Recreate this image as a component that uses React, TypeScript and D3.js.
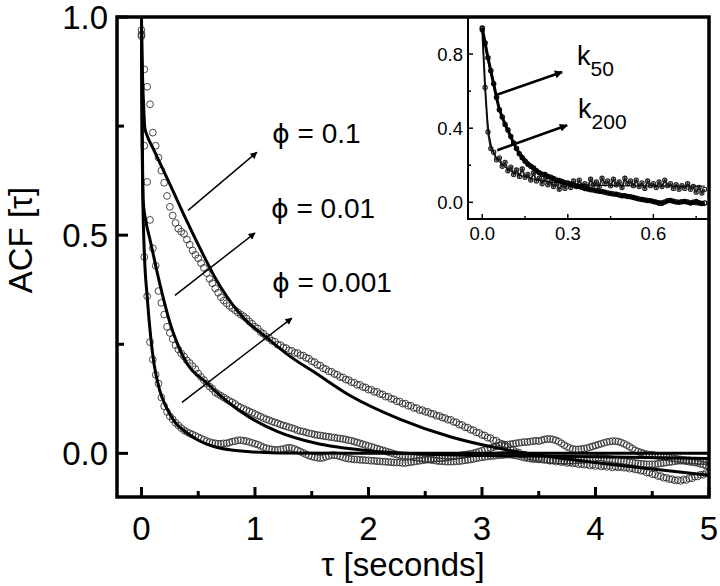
import React from "react";
import * as d3 from "d3";

// ---------- main panel data (sampled every 0.025 s from 0 to 5 s) ----------
const sampleStep = 0.025;
const acfPhi01 = [
  0.956, 0.880, 0.840, 0.800, 0.735, 0.705, 0.678, 0.648, 0.620, 0.590,
  0.565, 0.545, 0.528, 0.515, 0.508, 0.503, 0.490, 0.478, 0.465, 0.455,
  0.447, 0.436, 0.425, 0.413, 0.400, 0.390, 0.378, 0.368, 0.358, 0.350,
  0.344, 0.338, 0.333, 0.328, 0.323, 0.318, 0.314, 0.309, 0.302, 0.297,
  0.290, 0.286, 0.278, 0.274, 0.267, 0.264, 0.258, 0.256, 0.249, 0.248,
  0.243, 0.241, 0.236, 0.235, 0.230, 0.230, 0.225, 0.224, 0.219, 0.217,
  0.211, 0.209, 0.203, 0.201, 0.195, 0.193, 0.188, 0.187, 0.182, 0.180,
  0.175, 0.174, 0.169, 0.168, 0.163, 0.162, 0.157, 0.157, 0.152, 0.151,
  0.146, 0.146, 0.141, 0.141, 0.136, 0.135, 0.130, 0.130, 0.125, 0.124,
  0.119, 0.119, 0.114, 0.114, 0.109, 0.109, 0.104, 0.104, 0.099, 0.099,
  0.095, 0.095, 0.091, 0.090, 0.086, 0.086, 0.082, 0.081, 0.077, 0.077,
  0.072, 0.071, 0.066, 0.065, 0.060, 0.059, 0.054, 0.053, 0.048, 0.047,
  0.042, 0.041, 0.036, 0.035, 0.030, 0.029, 0.024, 0.022, 0.017, 0.015,
  0.010, 0.008, 0.003, 0.002, -0.003, -0.003, -0.007, -0.007, -0.010, -0.009,
  -0.012, -0.011, -0.014, -0.014, -0.017, -0.016, -0.019, -0.017, -0.020, -0.019,
  -0.022, -0.021, -0.023, -0.022, -0.025, -0.024, -0.026, -0.025, -0.028, -0.026,
  -0.029, -0.027, -0.030, -0.028, -0.031, -0.029, -0.032, -0.030, -0.032, -0.031,
  -0.033, -0.032, -0.035, -0.034, -0.037, -0.037, -0.040, -0.040, -0.044, -0.044,
  -0.048, -0.048, -0.052, -0.052, -0.056, -0.056, -0.059, -0.059, -0.062, -0.061,
  -0.063, -0.060, -0.061, -0.057, -0.057, -0.053, -0.053, -0.049, -0.049, -0.045,
  -0.045,
];
const acfPhi001 = [
  0.960, 0.705, 0.622, 0.535, 0.470, 0.430, 0.372, 0.345, 0.318, 0.290,
  0.276, 0.262, 0.248, 0.238, 0.229, 0.222, 0.213, 0.207, 0.200, 0.193,
  0.183, 0.175, 0.168, 0.160, 0.153, 0.148, 0.140, 0.136, 0.132, 0.128,
  0.124, 0.120, 0.117, 0.113, 0.108, 0.105, 0.102, 0.099, 0.096, 0.093,
  0.090, 0.087, 0.084, 0.081, 0.078, 0.076, 0.073, 0.071, 0.069, 0.066,
  0.064, 0.062, 0.060, 0.058, 0.056, 0.053, 0.051, 0.050, 0.048, 0.046,
  0.045, 0.043, 0.042, 0.041, 0.040, 0.039, 0.038, 0.037, 0.036, 0.035,
  0.034, 0.033, 0.032, 0.030, 0.029, 0.027, 0.025, 0.023, 0.021, 0.019,
  0.017, 0.015, 0.013, 0.011, 0.009, 0.007, 0.005, 0.003, 0.001, -0.001,
  -0.003, -0.004, -0.005, -0.006, -0.007, -0.008, -0.009, -0.010, -0.011, -0.012,
  -0.013, -0.014, -0.015, -0.016, -0.017, -0.018, -0.018, -0.019, -0.019, -0.019,
  -0.019, -0.018, -0.018, -0.017, -0.016, -0.015, -0.014, -0.013, -0.011, -0.010,
  -0.009, -0.008, -0.007, -0.006, -0.006, -0.005, -0.004, -0.004, -0.003, -0.003,
  -0.003, -0.004, -0.005, -0.006, -0.008, -0.010, -0.011, -0.012, -0.013, -0.013,
  -0.014, -0.014, -0.015, -0.015, -0.016, -0.016, -0.016, -0.017, -0.017, -0.017,
  -0.017, -0.017, -0.017, -0.016, -0.016, -0.015, -0.015, -0.014, -0.013, -0.012,
  -0.011, -0.010, -0.010, -0.011, -0.012, -0.013, -0.014, -0.015, -0.016, -0.017,
  -0.018, -0.019, -0.020, -0.021, -0.022, -0.023, -0.024, -0.024, -0.025, -0.025,
  -0.025, -0.025, -0.024, -0.023, -0.022, -0.021, -0.020, -0.019, -0.018, -0.017,
  -0.017, -0.017, -0.018, -0.019, -0.020, -0.021, -0.022, -0.024, -0.026, -0.028,
  -0.030,
];
const acfPhi0001 = [
  0.970, 0.450, 0.360, 0.255, 0.215, 0.180, 0.160, 0.128, 0.108, 0.095,
  0.085, 0.078, 0.070, 0.064, 0.058, 0.053, 0.049, 0.046, 0.043, 0.040,
  0.037, 0.034, 0.031, 0.028, 0.026, 0.024, 0.023, 0.022, 0.022, 0.023,
  0.023, 0.025, 0.027, 0.028, 0.030, 0.030, 0.029, 0.028, 0.026, 0.024,
  0.022, 0.020, 0.017, 0.014, 0.012, 0.010, 0.009, 0.008, 0.008, 0.009,
  0.010, 0.012, 0.013, 0.012, 0.010, 0.007, 0.004, 0.001, -0.002, -0.005,
  -0.007, -0.009, -0.010, -0.011, -0.010, -0.008, -0.006, -0.004, -0.004, -0.005,
  -0.007, -0.009, -0.011, -0.012, -0.013, -0.014, -0.014, -0.015, -0.015, -0.016,
  -0.016, -0.017, -0.017, -0.018, -0.018, -0.019, -0.019, -0.020, -0.020, -0.021,
  -0.021, -0.021, -0.022, -0.022, -0.021, -0.020, -0.019, -0.018, -0.017, -0.016,
  -0.015, -0.014, -0.013, -0.012, -0.012, -0.011, -0.011, -0.010, -0.009, -0.008,
  -0.007, -0.006, -0.005, -0.004, -0.003, -0.002, -0.001, 0.000, 0.002, 0.004,
  0.006, 0.008, 0.010, 0.012, 0.014, 0.016, 0.018, 0.019, 0.020, 0.020,
  0.021, 0.022, 0.023, 0.024, 0.025, 0.026, 0.026, 0.027, 0.028, 0.029,
  0.028, 0.030, 0.032, 0.033, 0.033, 0.032, 0.030, 0.027, 0.023, 0.019,
  0.015, 0.012, 0.010, 0.009, 0.009, 0.010, 0.011, 0.012, 0.014, 0.016,
  0.018, 0.020, 0.022, 0.024, 0.026, 0.027, 0.028, 0.028, 0.027, 0.025,
  0.022, 0.019, 0.015, 0.011, 0.007, 0.004, 0.002, 0.000, -0.002, -0.003,
  -0.003, -0.005, -0.006, -0.007, -0.008, -0.009, -0.010, -0.011, -0.012, -0.013,
  -0.014, -0.015, -0.016, -0.016, -0.017, -0.017, -0.018, -0.018, -0.018, -0.019,
  -0.019,
];

// fitted curves (tau, value)
const fitTauPhi01 = [0, 0.004, 0.01, 0.02, 0.03, 0.05, 0.1, 0.25, 0.4, 0.55, 0.65, 0.75, 0.9, 1.1, 1.3, 1.54, 1.84, 2.28, 2.72, 3.16, 3.4, 3.7, 4.03, 4.5, 5];
const fitPhi01 = [1.0, 0.93, 0.86, 0.79, 0.745, 0.728, 0.7, 0.617, 0.532, 0.452, 0.402, 0.36, 0.31, 0.266, 0.224, 0.183, 0.132, 0.078, 0.038, 0.011, 0.0, -0.011, -0.022, -0.036, -0.05];
const fitTauPhi001 = [0, 0.003, 0.008, 0.015, 0.04, 0.075, 0.16, 0.25, 0.37, 0.58, 0.75, 0.95, 1.2, 1.54, 2.0, 2.5, 3.0, 4.0, 5.0];
const fitPhi001 = [1.0, 0.85, 0.7, 0.58, 0.53, 0.49, 0.39, 0.3, 0.22, 0.16, 0.12, 0.083, 0.05, 0.023, 0.006, -0.002, -0.005, -0.008, -0.012];
const fitTauPhi0001 = [0, 0.002, 0.006, 0.012, 0.025, 0.05, 0.08, 0.11, 0.16, 0.22, 0.3, 0.37, 0.5, 0.66, 0.9, 1.2, 2, 5];
const fitPhi0001 = [1.0, 0.85, 0.7, 0.58, 0.46, 0.36, 0.27, 0.206, 0.145, 0.105, 0.07, 0.053, 0.03, 0.014, 0.005, 0.001, 0, 0];

const xTicksMain = [0, 1, 2, 3, 4, 5];
const xMinorMain = [0.5, 1.5, 2.5, 3.5, 4.5];
const yTicksMain = [0, 0.5, 1.0];
const yMinorMain = [0.25, 0.75];

const phiSymbol = "\u03D5";
const phiValues = ["0.1", "0.01", "0.001"];
// annotation anchors in data units: [labelTau, labelAcf, arrowFromTau, arrowFromAcf, arrowToTau, arrowToAcf]
const phiAnnot = [
  [1.15, 0.711, 0.41, 0.557, 1.017, 0.69],
  [1.14, 0.539, 0.295, 0.362, 1.0, 0.505],
  [1.15, 0.369, 0.357, 0.117, 1.325, 0.31],
];

// ---------- inset data (sampled every 0.01 s from 0 to 0.78 s) ----------
const insetStep = 0.01;
const acfK50 = [
  0.940, 0.860, 0.780, 0.710, 0.640, 0.565, 0.500, 0.460, 0.420, 0.390,
  0.355, 0.320, 0.290, 0.262, 0.240, 0.222, 0.205, 0.195, 0.185, 0.170,
  0.160, 0.152, 0.150, 0.140, 0.135, 0.128, 0.120, 0.118, 0.112, 0.105,
  0.100, 0.098, 0.092, 0.088, 0.085, 0.080, 0.075, 0.072, 0.068, 0.066,
  0.062, 0.060, 0.058, 0.055, 0.050, 0.048, 0.045, 0.043, 0.040, 0.036,
  0.035, 0.032, 0.030, 0.026, 0.022, 0.018, 0.015, 0.012, 0.010, 0.008,
  0.005, 0.000, -0.005, -0.005, 0.002, 0.008, 0.010, 0.006, 0.002, 0.000,
  0.003, 0.005, 0.002, -0.003, 0.000, 0.004, -0.002, -0.006, -0.004,
];
const acfK200 = [
  0.930, 0.620, 0.380, 0.290, 0.270, 0.230, 0.240, 0.195, 0.215, 0.170,
  0.190, 0.150, 0.175, 0.140, 0.180, 0.135, 0.150, 0.120, 0.160, 0.115,
  0.130, 0.100, 0.125, 0.095, 0.110, 0.085, 0.100, 0.070, 0.095, 0.075,
  0.105, 0.080, 0.115, 0.085, 0.120, 0.090, 0.100, 0.080, 0.125, 0.095,
  0.110, 0.085, 0.130, 0.100, 0.115, 0.090, 0.125, 0.095, 0.110, 0.080,
  0.130, 0.100, 0.115, 0.090, 0.120, 0.085, 0.105, 0.075, 0.115, 0.090,
  0.100, 0.080, 0.110, 0.085, 0.120, 0.090, 0.100, 0.075, 0.095, 0.070,
  0.090, 0.075, 0.100, 0.070, 0.085, 0.055, 0.080, 0.050, 0.070,
];
const fitTauK200 = [0, 0.005, 0.01, 0.02, 0.03, 0.05, 0.08, 0.12, 0.2, 0.3, 0.45, 0.6, 0.78];
const fitK200 = [0.95, 0.78, 0.62, 0.42, 0.32, 0.24, 0.19, 0.155, 0.12, 0.1, 0.09, 0.088, 0.087];
const fitTauK50 = [0, 0.02, 0.05, 0.1, 0.15, 0.2, 0.3, 0.4, 0.5, 0.6, 0.7, 0.78];
const fitK50 = [0.93, 0.76, 0.56, 0.35, 0.24, 0.17, 0.1, 0.06, 0.035, 0.012, -0.005, -0.018];

const xTicksInset = [0, 0.3, 0.6];
const xMinorInset = [0.15, 0.45, 0.75];
const yTicksInset = [0, 0.4, 0.8];
const yMinorInset = [0.2, 0.6];
const kLabels = [["k", "50"], ["k", "200"]];
// [labelTau, labelAcf, fromTau, fromAcf, toTau, toAcf]
const kAnnot = [
  [0.3325, 0.74, 0.046, 0.578, 0.28, 0.703],
  [0.336, 0.454, 0.0525, 0.281, 0.2975, 0.416],
];

const FONT = "'Liberation Sans', Arial, Helvetica, sans-serif";

export default function App() {
  const W = 720, H = 586;
  const x = d3.scaleLinear().domain([-0.2157, 5]).range([117, 709]);
  const y = d3.scaleLinear().domain([-0.1, 1.0]).range([497, 17]);

  const xi = d3.scaleLinear().domain([-0.05, 0.795]).range([468, 709]);
  const yi = d3.scaleLinear().domain([-0.09, 1.0]).range([219, 17]);

  const tauMain = acfPhi01.map((_, i) => i * sampleStep);
  const tauInset = acfK50.map((_, i) => i * insetStep);

  const fitLine = d3
    .line<[number, number]>()
    .x((d) => x(d[0]))
    .y((d) => y(d[1]))
    .curve(d3.curveMonotoneX);
  const insetLine = d3
    .line<[number, number]>()
    .x((d) => xi(d[0]))
    .y((d) => yi(d[1]))
    .curve(d3.curveMonotoneX);
  const insetDataLine = d3
    .line<[number, number]>()
    .x((d) => xi(d[0]))
    .y((d) => yi(d[1]));

  const zip = (a: number[], b: number[]) => a.map((v, i) => [v, b[i]] as [number, number]);

  const mainSeries = [acfPhi01, acfPhi001, acfPhi0001];
  const mainFits = [
    zip(fitTauPhi01, fitPhi01),
    zip(fitTauPhi001, fitPhi001),
    zip(fitTauPhi0001, fitPhi0001),
  ];

  return (
    <svg width={W} height={H} viewBox={`0 0 ${W} ${H}`} style={{ display: "block", position: "absolute", left: 0, top: 0, background: "#fff" }} fontFamily={FONT}>
      <defs>
        <marker id="arrThin" viewBox="0 0 10 10" refX="9" refY="5" markerWidth="9" markerHeight="7" markerUnits="userSpaceOnUse" orient="auto">
          <path d="M0,0 L10,5 L0,10 Z" fill="#000" />
        </marker>
        <marker id="arrThick" viewBox="0 0 10 10" refX="9" refY="5" markerWidth="11" markerHeight="8" markerUnits="userSpaceOnUse" orient="auto">
          <path d="M0,0 L10,5 L0,10 Z" fill="#000" />
        </marker>
        <clipPath id="mainClip">
          <rect x={117} y={17} width={592} height={480} />
        </clipPath>
      </defs>
      <rect x={0} y={0} width={W} height={H} fill="#fff" />

      {/* main data circles */}
      <g clipPath="url(#mainClip)">
        {mainSeries.map((s, si) => (
          <g key={si}>
            {s.map((v, i) => (
              <circle key={i} cx={x(tauMain[i])} cy={y(v)} r={3.4} fill="none" stroke="#2a2a2a" strokeWidth={0.85} />
            ))}
          </g>
        ))}
        {mainFits.map((f, i) => (
          <path key={i} d={fitLine(f) || ""} fill="none" stroke="#000" strokeWidth={3} />
        ))}
      </g>

      {/* annotations */}
      {phiAnnot.map((a, i) => (
        <g key={i}>
          <line x1={x(a[2])} y1={y(a[3])} x2={x(a[4])} y2={y(a[5])} stroke="#000" strokeWidth={1.5} markerEnd="url(#arrThin)" />
          <text x={x(a[0])} y={y(a[1])} fontSize={28} fill="#000">
            <tspan fontFamily="'DejaVu Sans', sans-serif" fontSize={27}>{phiSymbol}</tspan>
            {" = " + phiValues[i]}
          </text>
        </g>
      ))}

      {/* main frame */}
      <rect x={117} y={17} width={592} height={480} fill="none" stroke="#000" strokeWidth={3.5} />
      {xTicksMain.map((t) => (
        <g key={t}>
          <line x1={x(t)} x2={x(t)} y1={497} y2={487} stroke="#000" strokeWidth={3} />
          <text x={x(t)} y={540} fontSize={33} textAnchor="middle">{t}</text>
        </g>
      ))}
      {xMinorMain.map((t) => (
        <line key={t} x1={x(t)} x2={x(t)} y1={497} y2={491} stroke="#000" strokeWidth={3} />
      ))}
      {yTicksMain.map((t) => (
        <g key={t}>
          <line x1={117} x2={128} y1={y(t)} y2={y(t)} stroke="#000" strokeWidth={3} />
          <text x={108} y={y(t)} dy="0.36em" fontSize={33} textAnchor="end">{t.toFixed(1)}</text>
        </g>
      ))}
      {yMinorMain.map((t) => (
        <line key={t} x1={117} x2={124} y1={y(t)} y2={y(t)} stroke="#000" strokeWidth={3} />
      ))}
      <text x={403} y={576} fontSize={33} textAnchor="middle">{"\u03C4 [seconds]"}</text>
      <text transform={`translate(32,240) rotate(-90)`} fontSize={33} textAnchor="middle">{"ACF [\u03C4]"}</text>

      {/* inset */}
      <g>
        <path d={insetDataLine(zip(tauInset, acfK200)) || ""} fill="none" stroke="#222" strokeWidth={2} />
        {acfK200.map((v, i) => (
          <circle key={"b" + i} cx={xi(tauInset[i])} cy={yi(v)} r={2.1} fill="none" stroke="#222" strokeWidth={1.2} />
        ))}
        <path d={insetDataLine(zip(tauInset, acfK50)) || ""} fill="none" stroke="#000" strokeWidth={3} />
        {acfK50.map((v, i) => (
          <circle key={"a" + i} cx={xi(tauInset[i])} cy={yi(v)} r={2.1} fill="none" stroke="#000" strokeWidth={1.3} />
        ))}
        <path d={insetLine(zip(fitTauK200, fitK200)) || ""} fill="none" stroke="#000" strokeWidth={1} />
        <path d={insetLine(zip(fitTauK50, fitK50)) || ""} fill="none" stroke="#000" strokeWidth={1} />

        <line x1={468} x2={468} y1={17} y2={219} stroke="#000" strokeWidth={2} />
        <line x1={467} x2={709} y1={219} y2={219} stroke="#000" strokeWidth={2} />
        {xTicksInset.map((t) => (
          <g key={t}>
            <line x1={xi(t)} x2={xi(t)} y1={219} y2={214} stroke="#000" strokeWidth={1.5} />
            <text x={xi(t)} y={240} fontSize={18.5} textAnchor="middle">{t.toFixed(1)}</text>
          </g>
        ))}
        {xMinorInset.map((t) => (
          <line key={t} x1={xi(t)} x2={xi(t)} y1={219} y2={216} stroke="#000" strokeWidth={1.5} />
        ))}
        {yTicksInset.map((t) => (
          <g key={t}>
            <line x1={468} x2={473} y1={yi(t)} y2={yi(t)} stroke="#000" strokeWidth={1.5} />
            <text x={463} y={yi(t)} dy="0.36em" fontSize={18.5} textAnchor="end">{t.toFixed(1)}</text>
          </g>
        ))}
        {yMinorInset.map((t) => (
          <line key={t} x1={468} x2={471} y1={yi(t)} y2={yi(t)} stroke="#000" strokeWidth={1.5} />
        ))}
        {kAnnot.map((a, i) => (
          <g key={i}>
            <line x1={xi(a[2])} y1={yi(a[3])} x2={xi(a[4])} y2={yi(a[5])} stroke="#000" strokeWidth={2.5} markerEnd="url(#arrThick)" />
            <text x={xi(a[0])} y={yi(a[1])} fontSize={27}>
              {kLabels[i][0]}
              <tspan fontSize={21} dy={11}>{kLabels[i][1]}</tspan>
            </text>
          </g>
        ))}
      </g>
    </svg>
  );
}
